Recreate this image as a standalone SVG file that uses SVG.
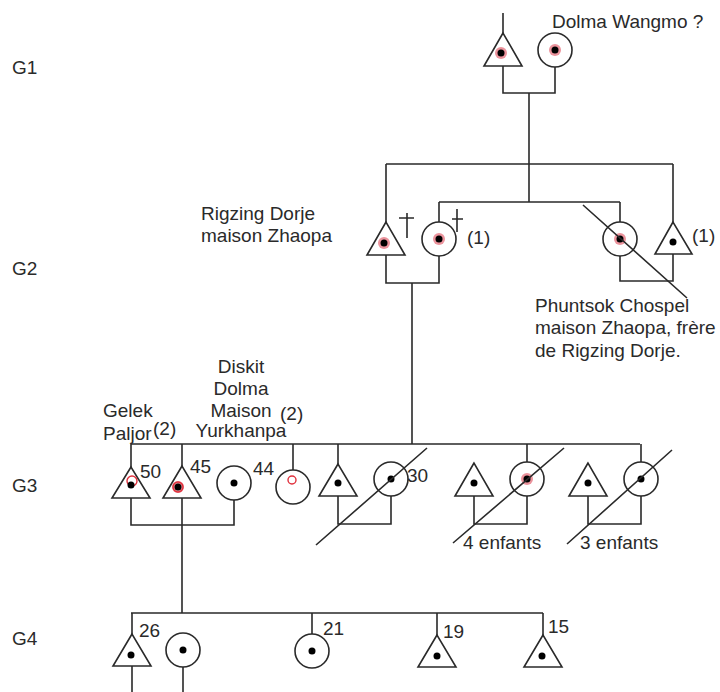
<svg xmlns="http://www.w3.org/2000/svg" width="720" height="692" viewBox="0 0 720 692">
<defs>
<style>
text{font-family:"Liberation Sans",Arial,sans-serif;font-size:19px;fill:#2a2a2a}
.c{text-anchor:middle}
.sym{fill:#fff;stroke:#2a2a2a;stroke-width:1.6}
.ln{stroke:#2a2a2a;stroke-width:1.6;fill:none}
.dot{fill:#000}
.halo{fill:#d8283a;opacity:0.5}
.ring{fill:none;stroke:#e0303c;stroke-width:1.4}
</style>
</defs>
<rect width="720" height="692" fill="#fff"/>

<g id="gen-labels">
<text x="12" y="74">G1</text>
<text x="12" y="275">G2</text>
<text x="12" y="492">G3</text>
<text x="12" y="645">G4</text>
</g>

<g id="connectors" class="ln">
<path d="M503 13V33M503 66V93H555V67M529 93V164M386 164H673M386 164V222M673 164V222M529 164V202M439 202H620M439 202V222M620 202V222"/>
<path d="M386 255V283H439V256M412 283V444M620 256V281H673V254"/>
<path d="M131 444H640M131 444V467M182 444V466M293 444V470M338 444V464M527 444V462M641 444V462"/>
<path d="M131 498V525H234V500M182 498V613M338 496V524H391V496M474 496V524H527V496M588 496V524H641V496"/>
<path d="M131 613H543M132 613V634M312 613V634M437 613V635M543 613V635M132 666V692M183 667V692"/>
<path d="M407 213V238M399 218H414M457 209V232M452 219H463"/>
</g>

<g id="g1-man"><polygon class="sym" points="503,33 484,66 522,66"/><circle class="halo" cx="501" cy="53" r="6"/><circle class="dot" cx="501" cy="53" r="3.5"/></g>
<g id="g1-woman"><circle class="sym" cx="555" cy="50" r="17"/><circle class="halo" cx="555" cy="50" r="6"/><circle class="dot" cx="555" cy="50" r="3.5"/><text x="552" y="28">Dolma Wangmo ?</text></g>

<g id="g2-rigzing"><polygon class="sym" points="386,222 367,255 405,255"/><circle class="halo" cx="384" cy="243" r="6"/><circle class="dot" cx="384" cy="243" r="3.5"/><text x="201" y="220">Rigzing Dorje</text><text x="201" y="242">maison Zhaopa</text></g>
<g id="g2-wife"><circle class="sym" cx="439" cy="239" r="17"/><circle class="halo" cx="439" cy="239" r="6"/><circle class="dot" cx="439" cy="239" r="3.5"/><text x="467" y="244">(1)</text></g>
<g id="g2-sister"><circle class="sym" cx="620" cy="239" r="17"/><circle class="halo" cx="620" cy="239" r="6"/><circle class="dot" cx="620" cy="239" r="3.5"/></g>
<g id="g2-phuntsok"><polygon class="sym" points="673,222 655,254 692,254"/><circle class="dot" cx="673" cy="242" r="3.5"/><text x="692" y="242">(1)</text><text x="535" y="312">Phuntsok Chospel</text><text x="535" y="334">maison Zhaopa, frère</text><text x="535" y="357">de Rigzing Dorje.</text></g>

<g id="g3-gelek"><polygon class="sym" points="131,467 112,498 150,498"/><circle class="ring" cx="132" cy="481" r="5"/><circle class="dot" cx="131" cy="485" r="3.5"/><text x="103" y="417">Gelek</text><text x="103" y="440">Paljor</text><text x="153" y="435">(2)</text><text x="140" y="478">50</text></g>
<g id="g3-45"><polygon class="sym" points="182,466 163,498 201,498"/><circle class="halo" cx="178" cy="487" r="6"/><circle class="ring" cx="178" cy="487" r="5"/><circle class="dot" cx="178" cy="487" r="3.5"/><text x="190" y="473">45</text></g>
<g id="g3-wife"><circle class="sym" cx="234" cy="483" r="17"/><circle class="dot" cx="234" cy="483" r="3.5"/></g>
<g id="g3-diskit"><circle class="sym" cx="293" cy="487" r="17"/><circle class="ring" cx="292" cy="480" r="4"/><text x="253" y="475">44</text><text class="c" x="241" y="373">Diskit</text><text class="c" x="241" y="395">Dolma</text><text class="c" x="241" y="417">Maison</text><text x="280" y="420">(2)</text><text class="c" x="241" y="437">Yurkhanpa</text></g>
<g id="g3-m3"><polygon class="sym" points="338,464 319,496 357,496"/><circle class="dot" cx="338" cy="483" r="3.5"/></g>
<g id="g3-w3"><circle class="sym" cx="391" cy="479" r="17"/><circle class="dot" cx="391" cy="479" r="3.5"/><text x="407" y="482">30</text></g>
<g id="g3-m4"><polygon class="sym" points="474,463 455,496 493,496"/><circle class="dot" cx="474" cy="483" r="3.5"/></g>
<g id="g3-w4"><circle class="sym" cx="527" cy="479" r="17"/><circle class="halo" cx="527" cy="479" r="6"/><circle class="dot" cx="527" cy="479" r="3.5"/><text x="463" y="549">4 enfants</text></g>
<g id="g3-m5"><polygon class="sym" points="588,463 569,496 607,496"/><circle class="dot" cx="588" cy="483" r="3.5"/></g>
<g id="g3-w5"><circle class="sym" cx="641" cy="479" r="17"/><circle class="dot" cx="641" cy="479" r="3.5"/><text x="580" y="549">3 enfants</text></g>

<g id="g4-26"><polygon class="sym" points="132,634 113,666 151,666"/><circle class="dot" cx="131" cy="655" r="3.5"/><text x="139" y="637">26</text></g>
<g id="g4-wife"><circle class="sym" cx="183" cy="650" r="17"/><circle class="dot" cx="183" cy="650" r="3.5"/></g>
<g id="g4-21"><circle class="sym" cx="312" cy="651" r="17"/><circle class="dot" cx="312" cy="651" r="3.5"/><text x="323" y="635">21</text></g>
<g id="g4-19"><polygon class="sym" points="437,635 418,667 456,667"/><circle class="dot" cx="437" cy="656" r="3.5"/><text x="443" y="638">19</text></g>
<g id="g4-15"><polygon class="sym" points="543,635 524,667 562,667"/><circle class="dot" cx="542" cy="656" r="3.5"/><text x="548" y="633">15</text></g>

<g id="strike-lines" class="ln">
<path d="M583 205L687 298M316 545L427 448M453 543L564 448M567 544L672 450"/>
</g>
</svg>
